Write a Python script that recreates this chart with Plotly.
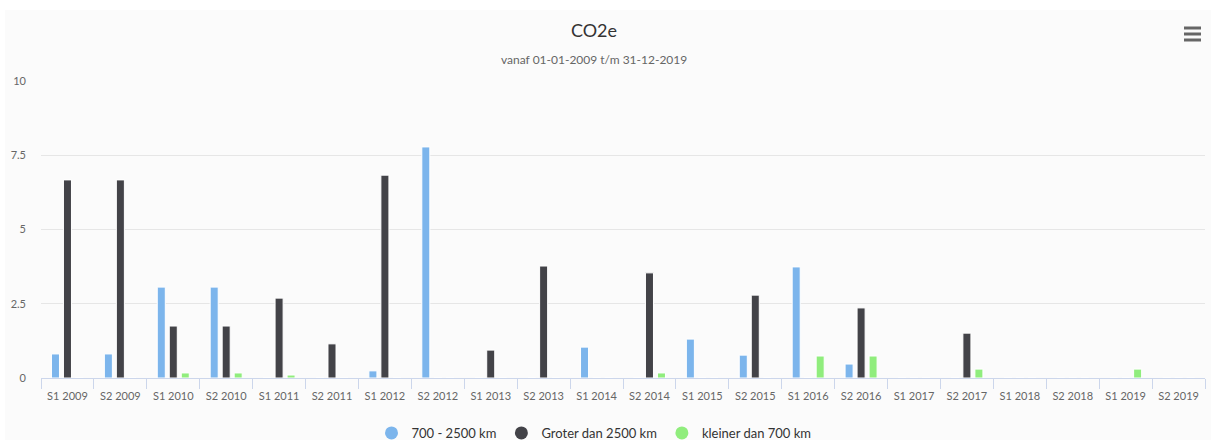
import plotly.graph_objects as go

categories = ["S1 2009", "S2 2009", "S1 2010", "S2 2010", "S1 2011", "S2 2011",
              "S1 2012", "S2 2012", "S1 2013", "S2 2013", "S1 2014", "S2 2014",
              "S1 2015", "S2 2015", "S1 2016", "S2 2016", "S1 2017", "S2 2017",
              "S1 2018", "S2 2018", "S1 2019", "S2 2019"]

mid_range = [0.81, 0.81, 3.06, 3.06, 0, 0, 0.24, 7.78, 0, 0, 1.04, 0,
             1.31, 0.77, 3.74, 0.47, 0, 0, 0, 0, 0, 0]
long_range = [6.67, 6.67, 1.75, 1.75, 2.69, 1.15, 6.83, 0, 0.94, 3.77, 0, 3.54,
              0, 2.79, 0, 2.36, 0, 1.51, 0, 0, 0, 0]
short_range = [0, 0, 0.17, 0.17, 0.1, 0, 0, 0, 0, 0, 0, 0.17,
               0, 0, 0.74, 0.74, 0, 0.3, 0, 0, 0.3, 0]

series_names = ["700 - 2500 km", "Groter dan 2500 km", "kleiner dan 700 km"]
series_colors = ["#7cb5ec", "#434348", "#90ed7d"]
series_values = [mid_range, long_range, short_range]

y_ticks = [0, 2.5, 5, 7.5, 10]
y_tick_labels = ["0", "2.5", "5", "7.5", "10"]

FONT = "Lato, 'Open Sans', sans-serif"

fig = go.Figure()
for name, color, vals in zip(series_names, series_colors, series_values):
    fig.add_trace(go.Bar(
        x=categories, y=vals, name=name, marker_color=color,
        marker_line=dict(color="#ffffff", width=1), showlegend=False,
    ))
for name, color in zip(series_names, series_colors):
    fig.add_trace(go.Scatter(
        x=[None], y=[None], mode="markers", name=name,
        marker=dict(color=color, size=13, symbol="circle"),
    ))

PW = 1164
PH = 297
CX = (594 - 41) / PW
fig.update_layout(
    width=1212, height=442,
    paper_bgcolor="#ffffff", plot_bgcolor="rgba(0,0,0,0)",
    margin=dict(l=41, r=7, t=81, b=64, autoexpand=False),
    barmode="group", bargap=0.32, bargroupgap=0.33,
    font=dict(family=FONT, size=11, color="#666666"),
    title=dict(text="CO2e", xref="paper", x=CX, xanchor="center", y=1 - 31 / 442, yanchor="middle",
               font=dict(family=FONT, size=18, color="#333333")),
    annotations=[dict(text="vanaf 01-01-2009 t/m 31-12-2019", xref="paper", yref="paper",
                      x=CX, y=1.0 + (81 - 59) / PH, xanchor="center", yanchor="middle",
                      showarrow=False, font=dict(family=FONT, size=12, color="#666666"))],
    legend=dict(orientation="h", x=CX, xanchor="center", y=-55 / PH, yanchor="middle",
                font=dict(family=FONT, size=13, color="#333333"), itemwidth=30,
                bgcolor="rgba(0,0,0,0)"),
    shapes=[
        dict(type="rect", xref="paper", yref="paper", layer="below",
             x0=-36 / PW, x1=1.0 + 6 / PW, y0=-(442 - 378 - 2) / PH, y1=1.0 + (81 - 10) / PH,
             fillcolor="#fbfbfb", line=dict(width=0)),
    ] + [
        dict(type="line", xref="paper", yref="paper",
             x0=(1184 - 41) / PW, x1=(1201 - 41) / PW,
             y0=(378 - yy) / PH, y1=(378 - yy) / PH,
             line=dict(color="#666666", width=3))
        for yy in (28, 34, 40)
    ],
)

fig.update_xaxes(
    type="category", showgrid=False, showline=True, linecolor="#ccd6eb", linewidth=1,
    ticks="outside", tickson="boundaries", ticklen=10, tickcolor="#ccd6eb",
    ticklabelstandoff=8,
    tickfont=dict(family=FONT, size=11, color="#666666"), automargin=False,
)
fig.update_yaxes(
    range=[0, 10], tickvals=y_ticks, ticktext=y_tick_labels,
    showgrid=True, gridcolor="#e6e6e6", gridwidth=1, zeroline=False, showline=False,
    ticklabelstandoff=14, tickfont=dict(family=FONT, size=11, color="#666666"),
    automargin=False,
)

fig.write_html("out.html", config={"displayModeBar": False},
               post_script="document.body.style.margin='0';document.body.style.overflow='hidden';")
